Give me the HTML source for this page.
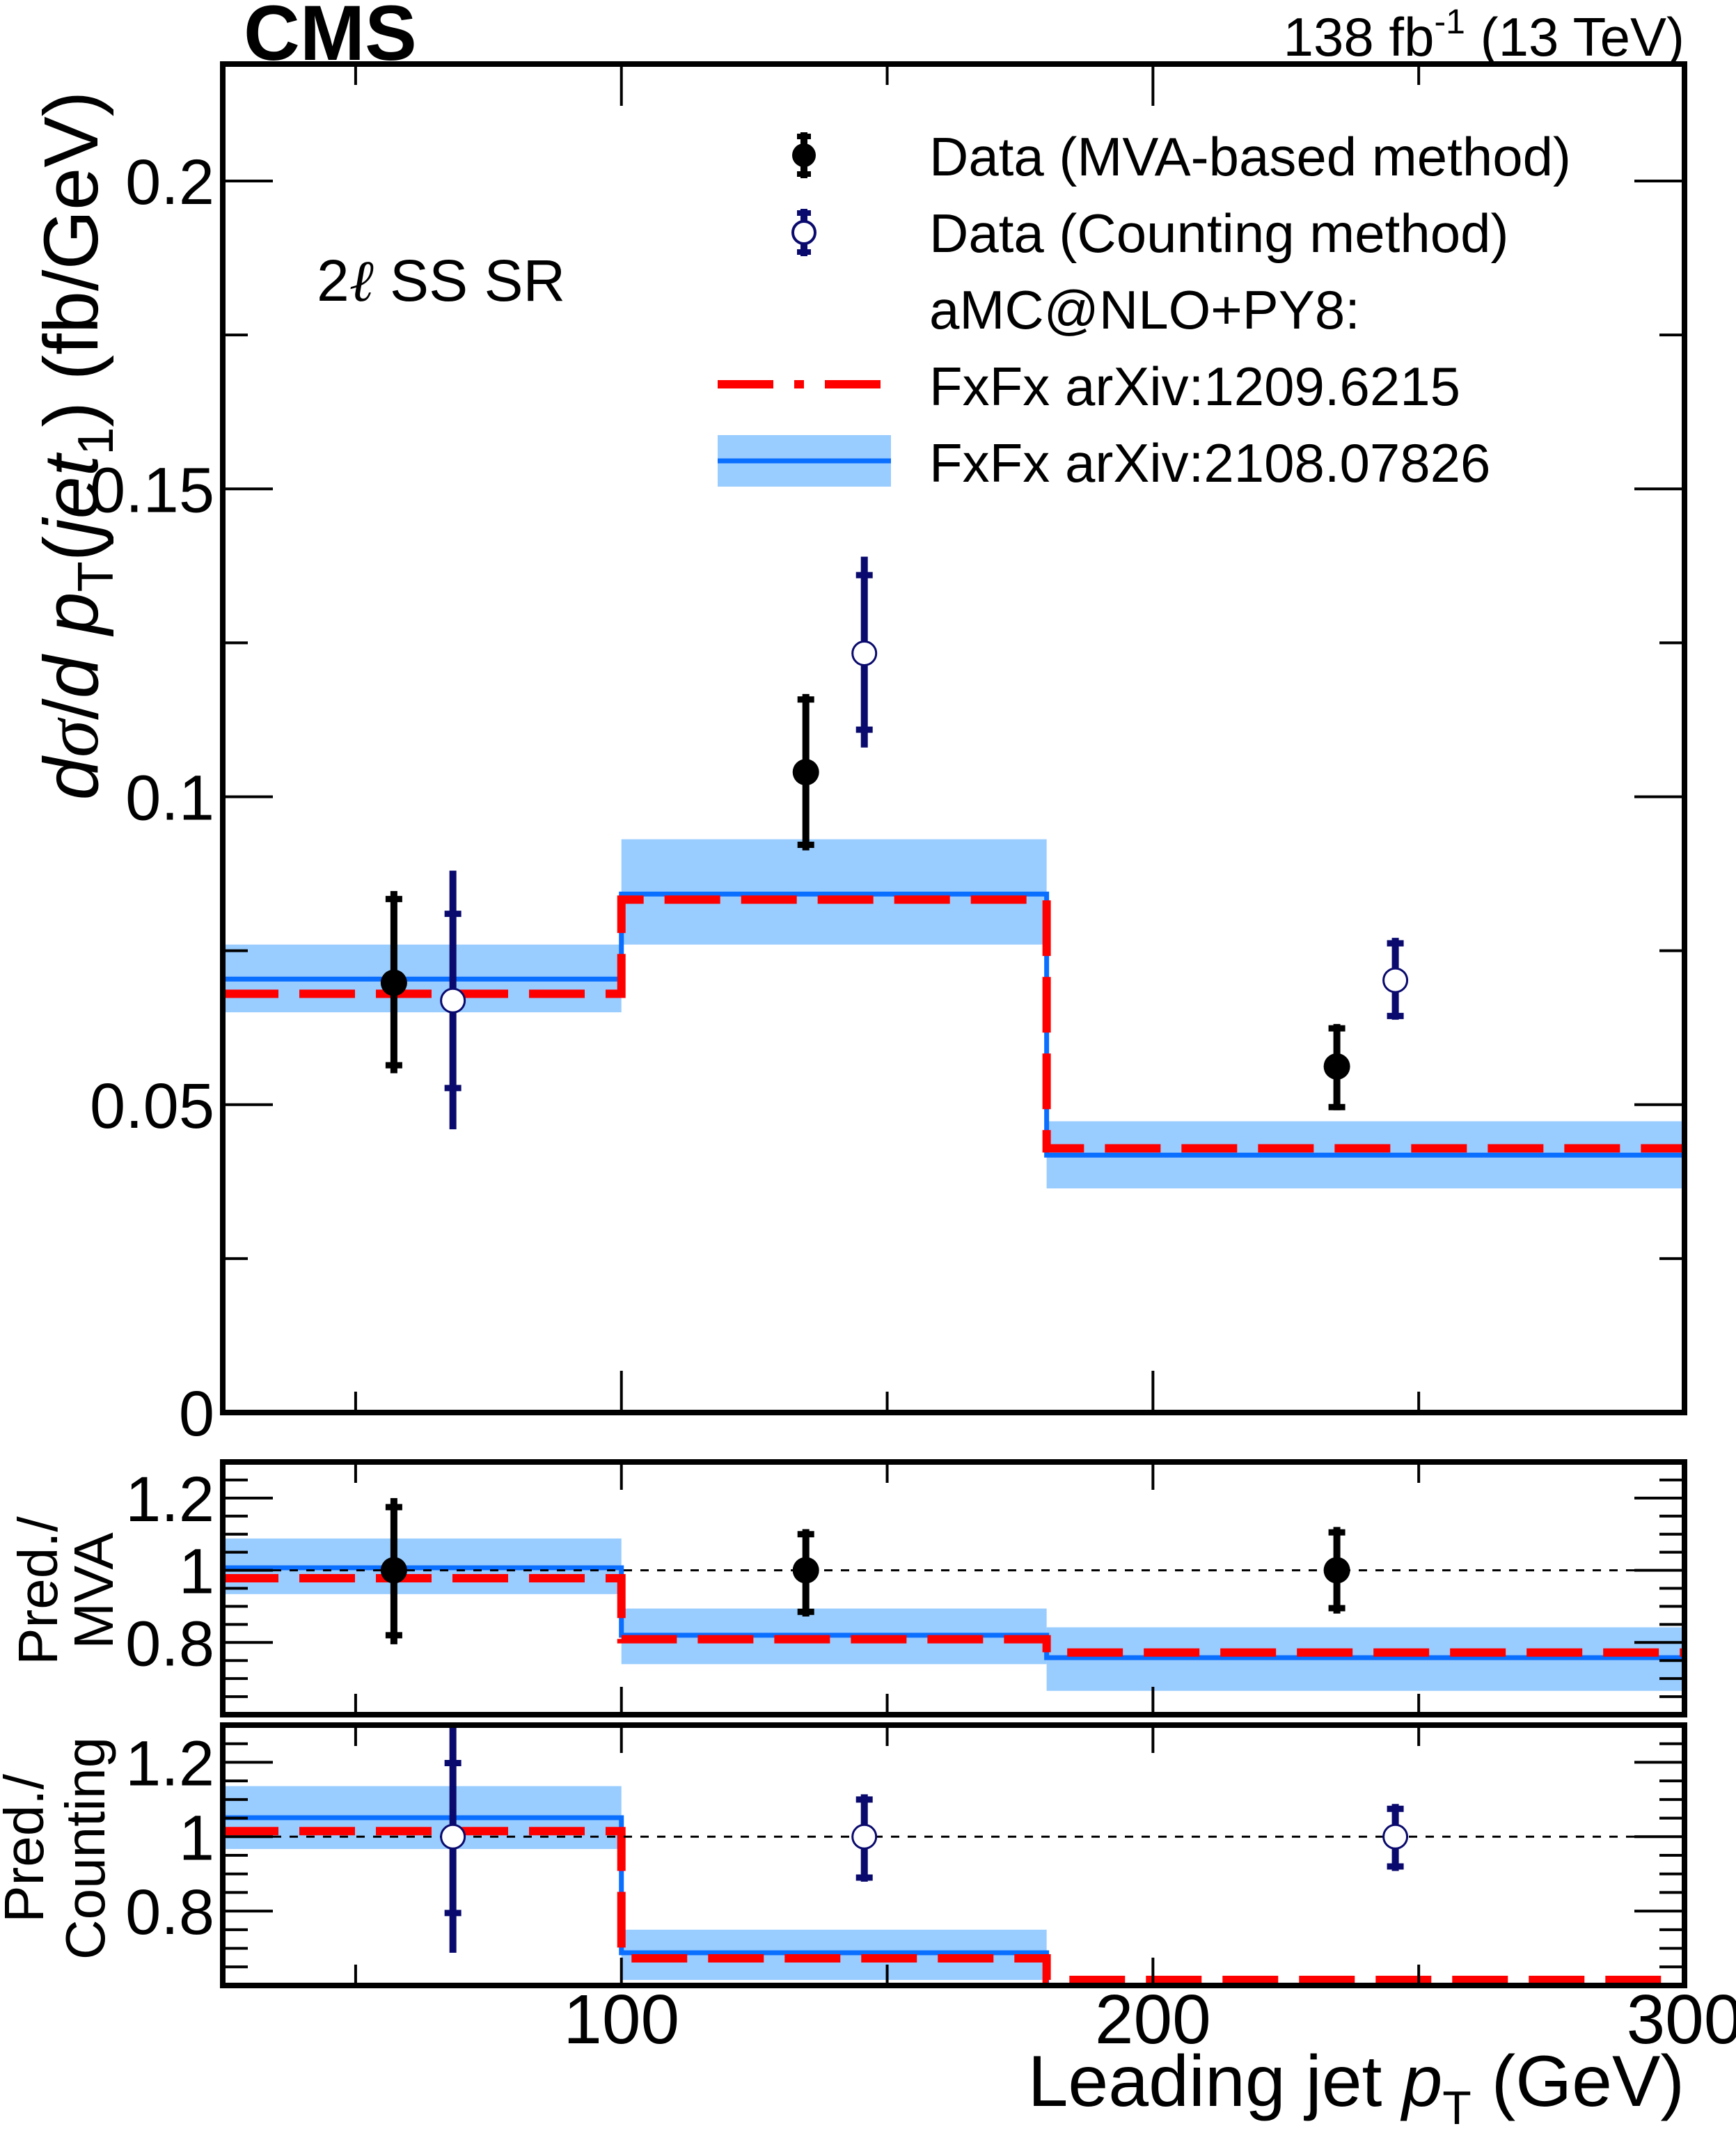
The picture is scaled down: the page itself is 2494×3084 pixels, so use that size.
<!DOCTYPE html>
<html><head><meta charset="utf-8"><style>
html,body{margin:0;padding:0;background:#fff}
svg{display:block;font-family:"Liberation Sans",sans-serif}
</style></head><body>
<svg id="c" width="2494" height="3084" viewBox="0 0 2494 3084" xmlns="http://www.w3.org/2000/svg">
<text x="350" y="86" font-size="112" font-weight="bold">CMS</text>
<text x="2420" y="80" font-size="78" text-anchor="end">138 fb<tspan font-size="50" dy="-32">-1</tspan><tspan dy="32"> (13 TeV)</tspan></text>
<text x="455" y="432" font-size="84">2<tspan font-family="Liberation Serif" font-style="italic">ℓ</tspan> SS SR</text>
<g id="plot"></g>
<text transform="translate(140,640) rotate(-90)" font-size="110" text-anchor="middle"><tspan font-style="italic">d</tspan><tspan font-family="Liberation Serif" font-style="italic">σ</tspan>/<tspan font-style="italic">d p</tspan><tspan font-size="72" dy="22">T</tspan><tspan dy="-22">(</tspan><tspan font-style="italic">jet</tspan><tspan font-size="72" dy="22">1</tspan><tspan dy="-22">) (fb/GeV)</tspan></text>
<text transform="translate(82,2285) rotate(-90)" font-size="80" text-anchor="middle">Pred./</text>
<text transform="translate(162,2285) rotate(-90)" font-size="80" text-anchor="middle">MVA</text>
<text transform="translate(62,2655) rotate(-90)" font-size="80" text-anchor="middle">Pred./</text>
<text transform="translate(150,2655) rotate(-90)" font-size="80" text-anchor="middle">Counting</text>
<text x="2420" y="3025" font-size="104" text-anchor="end">Leading jet <tspan font-style="italic">p</tspan><tspan font-size="68" dy="26">T</tspan><tspan dy="-26"> (GeV)</tspan></text>
<g>
<line x1="1155" y1="190" x2="1155" y2="256" stroke="#000" stroke-width="10"/>
<line x1="1145" y1="196" x2="1165" y2="196" stroke="#000" stroke-width="8"/>
<line x1="1145" y1="250" x2="1165" y2="250" stroke="#000" stroke-width="8"/>
<circle cx="1155" cy="223" r="17" fill="#000"/>
<text x="1335" y="252" font-size="78">Data (MVA-based method)</text>
<line x1="1155" y1="300" x2="1155" y2="368" stroke="#0a0a6e" stroke-width="10"/>
<line x1="1145" y1="306" x2="1165" y2="306" stroke="#0a0a6e" stroke-width="8"/>
<line x1="1145" y1="362" x2="1165" y2="362" stroke="#0a0a6e" stroke-width="8"/>
<circle cx="1155" cy="334" r="16" fill="#fff" stroke="#0a0a6e" stroke-width="4"/>
<text x="1335" y="362" font-size="78">Data (Counting method)</text>
<text x="1335" y="472" font-size="78">aMC@NLO+PY8:</text>
<line x1="1031" y1="552" x2="1280" y2="552" stroke="#ff0000" stroke-width="12" stroke-dasharray="80,30,14,30"/>
<text x="1335" y="582" font-size="78">FxFx arXiv:1209.6215</text>
<rect x="1031" y="625" width="249" height="74" fill="#99ccff"/>
<line x1="1031" y1="662" x2="1280" y2="662" stroke="#0a6eff" stroke-width="7"/>
<text x="1335" y="692" font-size="78">FxFx arXiv:2108.07826</text>
</g>
</svg>
<script>
const binEdges=[25,100,180,300];
const predRed=[0.068,0.0833,0.0429];
const predBlue=[0.0704,0.0842,0.0418];
const bandLo=[0.065,0.076,0.0364];
const bandHi=[0.076,0.0931,0.0473];
const mvaX=[57.2,134.7,234.6];
const mvaY=[0.0698,0.104,0.0562];
const mvaTotUp=[0.0847,0.1167,0.0631];
const mvaTotDn=[0.0551,0.0913,0.0491];
const mvaStatUp=[0.0834,0.1158,0.0624];
const mvaStatDn=[0.0564,0.0922,0.0496];
const cntX=[68.3,145.7,245.6];
const cntY=[0.0669,0.1233,0.0702];
const cntTotUp=[0.088,0.139,0.0771];
const cntTotDn=[0.046,0.108,0.0638];
const cntStatUp=[0.081,0.136,0.0762];
const cntStatDn=[0.0527,0.1109,0.0644];
const r1Red=[0.978,0.809,0.772];
const r1Blue=[1.007,0.82,0.758];
const r1Lo=[0.934,0.74,0.666];
const r1Hi=[1.088,0.894,0.842];
const r1TotUp=[1.2,1.114,1.12];
const r1TotDn=[0.795,0.872,0.88];
const r1StatUp=[1.175,1.1,1.105];
const r1StatDn=[0.82,0.885,0.895];
const r2Red=[1.015,0.673,0.615];
const r2Blue=[1.051,0.688,0.58];
const r2Lo=[0.967,0.615,0.5];
const r2Hi=[1.136,0.75,0.55];
const r2TotUp=[1.3,1.114,1.088];
const r2TotDn=[0.688,0.879,0.908];
const r2StatUp=[1.198,1.1,1.075];
const r2StatDn=[0.795,0.89,0.92];
const mainTicks=[0,0.05,0.1,0.15,0.2];
const mainTickLabels=["0","0.05","0.1","0.15","0.2"];
const ratioTicks=[0.8,1,1.2];
const ratioTickLabels=["0.8","1","1.2"];
const xTicks=[100,200,300];
const xTickLabels=["100","200","300"];

const NS="http://www.w3.org/2000/svg";
const root=document.getElementById('plot');
const L=320,R=2420;
const X=v=>L+(v-25)/(275)*(R-L);
function el(t,a,p){const e=document.createElementNS(NS,t);for(const k in a)e.setAttribute(k,a[k]);(p||root).appendChild(e);return e;}
function panel(name,top,bot,y0,y1,majors,labels,minorStep){
  const Y=v=>bot-(v-y0)/(y1-y0)*(bot-top);
  const g=el('g',{});
  
  
  const cp=el('clipPath',{id:'cp'+name},g);
  el('rect',{x:L,y:top,width:R-L,height:bot-top},cp);
  const d=el('g',{'clip-path':'url(#cp'+name+')'},g);
  return {Y,g,d,top,bot,y0,y1,majors,labels,minorStep,name};
}
function axes(p,xlabels){
  const {Y,g,top,bot}=p;
  for(let v=p.y0;v<=p.y1+1e-9;v+=p.minorStep){
    const maj=p.majors.some(m=>Math.abs(m-v)<1e-6);const len=maj?72:36;
    el('line',{x1:L,y1:Y(v),x2:L+len,y2:Y(v),stroke:'#000','stroke-width':4},g);
    el('line',{x1:R,y1:Y(v),x2:R-len,y2:Y(v),stroke:'#000','stroke-width':4},g);
  }
  p.majors.forEach((m,i)=>{const t=el('text',{x:308,y:Y(m)+33,'font-size':92,'text-anchor':'end'},g);t.textContent=p.labels[i];
    
    });
  for(let v=50;v<=300;v+=50){const maj=v%100==0;const len=maj?(p.name=='main'?60:40):30;
    el('line',{x1:X(v),y1:bot,x2:X(v),y2:bot-len,stroke:'#000','stroke-width':4},g);
    el('line',{x1:X(v),y1:top,x2:X(v),y2:top+len,stroke:'#000','stroke-width':4},g);}
  el('rect',{x:L,y:top,width:R-L,height:bot-top,fill:'none',stroke:'#000','stroke-width':8},g);
  if(xlabels){xTicks.forEach((v,i)=>{const t=el('text',{x:X(v),y:2935,'font-size':100,'text-anchor':'middle'},g);t.textContent=xTickLabels[i];
    
    });}
}
function preds(p,lo,hi,blue,red){
  const {Y,d}=p;
  for(let i=0;i<3;i++){const b=el('rect',{x:X(binEdges[i]),y:Y(hi[i]),width:X(binEdges[i+1])-X(binEdges[i]),height:Y(lo[i])-Y(hi[i]),fill:'#99ccff'},d);
    
    }
  function step(vals){let s='M'+X(binEdges[0])+','+Y(vals[0]);for(let i=0;i<3;i++){s+=' L'+X(binEdges[i])+','+Y(vals[i])+' L'+X(binEdges[i+1])+','+Y(vals[i]);}return s;}
  const bl=el('path',{d:step(blue),fill:'none',stroke:'#0a6eff','stroke-width':7},d);
  
  
  const rd=el('path',{d:step(red),fill:'none',stroke:'#ff0000','stroke-width':12,'stroke-dasharray':'80,30'},d);
  
  
}
function points(p,xs,ys,tu,td,su,sd,col,open){
  const {Y,d}=p;
  for(let i=0;i<xs.length;i++){
    const g=el('g',{},d);
    
    
    const x=X(xs[i]);
    el('line',{x1:x,y1:Y(tu[i]),x2:x,y2:Y(td[i]),stroke:col,'stroke-width':10},g);
    el('line',{x1:x-12,y1:Y(su[i]),x2:x+12,y2:Y(su[i]),stroke:col,'stroke-width':9},g);
    el('line',{x1:x-12,y1:Y(sd[i]),x2:x+12,y2:Y(sd[i]),stroke:col,'stroke-width':9},g);
    el('circle',{cx:x,cy:Y(ys[i]),r:open?17:19,fill:open?'#fff':col,stroke:col,'stroke-width':open?3:0},g);
  }
}
const main=panel('main',92,2029,0,0.219,mainTicks,mainTickLabels,0.025);
preds(main,bandLo,bandHi,predBlue,predRed);
points(main,mvaX,mvaY,mvaTotUp,mvaTotDn,mvaStatUp,mvaStatDn,'#000',false);
points(main,cntX,cntY,cntTotUp,cntTotDn,cntStatUp,cntStatDn,'#0a0a6e',true);
axes(main,false);
function ratio(name,top,bot,red,blue,lo,hi,xs,tu,td,su,sd,col,open,xl){
  const p=panel(name,top,bot,0.6,1.3,ratioTicks,ratioTickLabels,0.05);
  preds(p,lo,hi,blue,red);
  const ln=el('line',{x1:L,y1:p.Y(1),x2:R,y2:p.Y(1),stroke:'#000','stroke-width':3,'stroke-dasharray':'12,12'},p.d);
  
  
  points(p,xs,[1,1,1],tu,td,su,sd,col,open);
  axes(p,xl);
}
ratio('ratio-mva',2100,2463,r1Red,r1Blue,r1Lo,r1Hi,mvaX,r1TotUp,r1TotDn,r1StatUp,r1StatDn,'#000',false,false);
ratio('ratio-counting',2478,2852,r2Red,r2Blue,r2Lo,r2Hi,cntX,r2TotUp,r2TotDn,r2StatUp,r2StatDn,'#0a0a6e',true,true);
</script>
</body></html>
